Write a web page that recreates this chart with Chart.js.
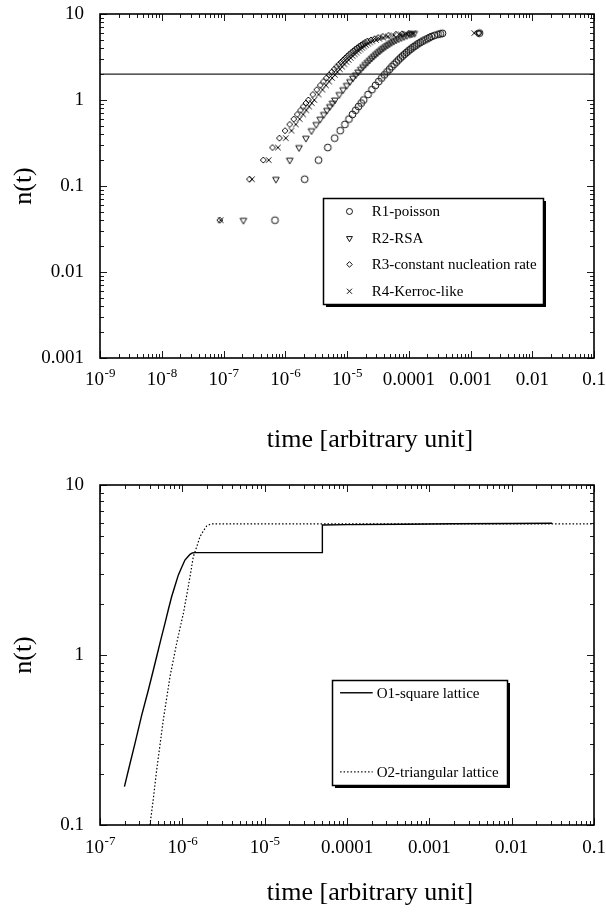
<!DOCTYPE html>
<html><head><meta charset="utf-8">
<script src="https://cdn.jsdelivr.net/npm/chart.js@4.4.1/dist/chart.umd.min.js"></script>
<style>
html,body{margin:0;padding:0;background:#fff;}
#wrap{position:relative;width:606px;height:913px;overflow:hidden;background:#fff;}
canvas{position:absolute;left:0;}
</style></head><body>
<div id="wrap">
<canvas id="topChart" width="606" height="457" style="top:0;width:606px;height:457px"></canvas>
<canvas id="botChart" width="606" height="456" style="top:457px;width:606px;height:456px"></canvas>
</div>
<script>
// ---------- DATA: top panel (n(t) for the four R models) ----------
const nValues = [0.04,0.12,0.20,0.28,0.36,0.44,0.52,0.60,0.68,0.76,0.84,0.92,1.00,
  1.16,1.32,1.48,1.64,1.80,1.96,2.12,2.28,2.44,2.60,2.76,2.92,3.08,3.24,3.40,3.56,3.72,
  3.88,4.04,4.20,4.36,4.52,4.68,4.84,5.00,5.16,5.32,5.48,5.64,5.80,5.88,5.96,6.00];
const r1Time = [6.82e-7,2.06e-6,3.46e-6,4.88e-6,6.31e-6,7.77e-6,9.25e-6,1.075e-5,1.227e-5,1.382e-5,1.538e-5,1.698e-5,1.86e-5,
  2.19e-5,2.53e-5,2.89e-5,3.26e-5,3.64e-5,4.03e-5,4.45e-5,4.88e-5,5.32e-5,5.79e-5,6.29e-5,6.80e-5,7.35e-5,7.92e-5,8.53e-5,9.18e-5,9.87e-5,
  1.061e-4,1.141e-4,1.228e-4,1.323e-4,1.428e-4,1.544e-4,1.676e-4,1.828e-4,2.0e-4,2.17e-4,2.35e-4,2.62e-4,2.98e-4,3.25e-4,3.52e-4,1.40e-3];
const r2Time = [2.1e-7,7.05e-7,1.18e-6,1.67e-6,2.16e-6,2.66e-6,3.17e-6,3.68e-6,4.20e-6,4.73e-6,5.26e-6,5.81e-6,6.36e-6,
  7.50e-6,8.67e-6,9.88e-6,1.114e-5,1.245e-5,1.380e-5,1.521e-5,1.668e-5,1.822e-5,1.982e-5,2.151e-5,2.328e-5,2.513e-5,2.71e-5,2.92e-5,3.14e-5,3.38e-5,
  3.63e-5,3.90e-5,4.20e-5,4.53e-5,4.88e-5,5.28e-5,5.74e-5,6.25e-5,6.86e-5,7.6e-5,8.4e-5,9.3e-5,1.04e-4,1.12e-4,1.23e-4,1.35e-3];
const r3Time = [8.7e-8,2.63e-7,4.41e-7,6.21e-7,8.05e-7,9.91e-7,1.179e-6,1.370e-6,1.564e-6,1.762e-6,1.960e-6,2.165e-6,2.37e-6,
  2.79e-6,3.23e-6,3.68e-6,4.15e-6,4.64e-6,5.14e-6,5.67e-6,6.21e-6,6.79e-6,7.38e-6,8.01e-6,8.67e-6,9.36e-6,1.009e-5,1.087e-5,1.170e-5,1.258e-5,
  1.352e-5,1.455e-5,1.565e-5,1.686e-5,1.82e-5,1.97e-5,2.14e-5,2.45e-5,2.8e-5,3.2e-5,3.8e-5,4.7e-5,6.2e-5,7.8e-5,1.0e-4,1.38e-3];
const r4Time = [9.0e-8,2.9e-7,5.4e-7,7.6e-7,1.02e-6,1.26e-6,1.48e-6,1.71e-6,1.95e-6,2.19e-6,2.44e-6,2.69e-6,2.95e-6,
  3.47e-6,4.01e-6,4.57e-6,5.14e-6,5.74e-6,6.35e-6,6.99e-6,7.65e-6,8.35e-6,9.07e-6,9.83e-6,1.063e-5,1.147e-5,1.235e-5,1.329e-5,1.428e-5,1.534e-5,
  1.647e-5,1.77e-5,1.90e-5,2.04e-5,2.20e-5,2.38e-5,2.58e-5,2.95e-5,3.35e-5,3.85e-5,4.6e-5,5.7e-5,7.4e-5,9.2e-5,1.18e-4,1.15e-3];
const thresholdLevel = 2;
const topSeriesNames = ['R1-poisson','R2-RSA','R3-constant nucleation rate','R4-Kerroc-like'];

// ---------- DATA: bottom panel (O1 / O2 lattices) ----------
const o1Time = [1.98e-7,2.3e-7,2.66e-7,3.2e-7,3.86e-7,4.4e-7,4.88e-7,5.5e-7,6.15e-7,6.8e-7,7.41e-7,8.2e-7,8.93e-7,9.8e-7,
  1.076e-6,1.16e-6,1.24e-6,1.32e-6,1.4e-6,5.0e-5,5.02e-5,1e-4,5e-4,2e-3,1e-2,3.1e-2];
const o1N = [0.168,0.227,0.302,0.44,0.62,0.80,0.98,1.24,1.536,1.87,2.2,2.58,2.95,3.27,
  3.62,3.77,3.91,3.98,4.0,4.0,5.82,5.85,5.88,5.92,5.94,5.96];
const o2Time = [4.04e-7,4.4e-7,4.88e-7,5.4e-7,5.87e-7,6.5e-7,7.08e-7,7.8e-7,8.53e-7,9.4e-7,1.03e-6,1.1e-6,1.18e-6,1.27e-6,
  1.36e-6,1.5e-6,1.64e-6,1.8e-6,1.98e-6,2.15e-6,2.3e-6,1e-5,1e-4,1e-3,1e-2,0.1];
const o2N = [0.1,0.137,0.211,0.305,0.415,0.57,0.746,0.944,1.17,1.45,1.76,2.09,2.52,3.1,
  3.79,4.35,4.97,5.37,5.75,5.86,5.9,5.9,5.9,5.9,5.9,5.9];
const bottomSeriesNames = ['O1-square lattice','O2-triangular lattice'];

// ---------- TICKS ----------
const xTickValuesTop = [1e-9,1e-8,1e-7,1e-6,1e-5,1e-4,1e-3,1e-2,1e-1];
const xTickLabelsTop = ['10^-9','10^-8','10^-7','10^-6','10^-5','0.0001','0.001','0.01','0.1'];
const yTickValuesTop = [0.001,0.01,0.1,1,10];
const yTickLabelsTop = ['0.001','0.01','0.1','1','10'];
const xTickValuesBot = [1e-7,1e-6,1e-5,1e-4,1e-3,1e-2,1e-1];
const xTickLabelsBot = ['10^-7','10^-6','10^-5','0.0001','0.001','0.01','0.1'];
const yTickValuesBot = [0.1,1,10];
const yTickLabelsBot = ['0.1','1','10'];
const xAxisTitle = 'time [arbitrary unit]';
const yAxisTitle = 'n(t)';

// ---------- STYLE / HELPERS ----------
const SERIF = "'Liberation Serif','Times New Roman',serif";
Chart.defaults.font.family = SERIF;
Chart.defaults.color = '#000';

function pts(xs, ys) { return xs.map((x, i) => ({x: x, y: Array.isArray(ys) ? ys[i] : ys})); }

function drawMarker(ctx, style, x, y, r) {
  ctx.beginPath();
  if (style === 'circle') { ctx.arc(x, y, r, 0, Math.PI * 2); }
  else if (style === 'triangleDown') {
    ctx.moveTo(x - r * 0.866, y - r * 0.5); ctx.lineTo(x + r * 0.866, y - r * 0.5); ctx.lineTo(x, y + r); ctx.closePath();
  } else if (style === 'diamond') {
    ctx.moveTo(x, y - r); ctx.lineTo(x + r, y); ctx.lineTo(x, y + r); ctx.lineTo(x - r, y); ctx.closePath();
  } else if (style === 'x') {
    const d = r * 0.75;
    ctx.moveTo(x - d, y - d); ctx.lineTo(x + d, y + d); ctx.moveTo(x + d, y - d); ctx.lineTo(x - d, y + d);
  }
  ctx.stroke();
}

function frameTicksPlugin(xVals, xLabels, labelDrop, titleX, titleY) {
  return {
    id: 'frameTicks',
    afterDraw(chart) {
      const {ctx, chartArea: a, scales: {x, y}} = chart;
      ctx.save();
      ctx.strokeStyle = '#1a1a1a';
      ctx.lineWidth = 1;
      const tickSet = (scale, cb) => {
        const lo = Math.floor(Math.log10(scale.min) + 1e-9), hi = Math.ceil(Math.log10(scale.max) - 1e-9);
        for (let e = lo; e <= hi; e++) for (let m = 1; m <= 9; m++) {
          const v = m * Math.pow(10, e);
          if (v < scale.min * 0.999 || v > scale.max * 1.001) continue;
          cb(Math.round(scale.getPixelForValue(v)) + 0.5, m === 1 ? 7 : 4);
        }
      };
      ctx.beginPath();
      tickSet(x, (p, L) => { ctx.moveTo(p, a.bottom); ctx.lineTo(p, a.bottom - L); ctx.moveTo(p, a.top); ctx.lineTo(p, a.top + L); });
      tickSet(y, (p, L) => { ctx.moveTo(a.left, p); ctx.lineTo(a.left + L, p); ctx.moveTo(a.right, p); ctx.lineTo(a.right - L, p); });
      ctx.stroke();
      ctx.lineWidth = 1.6;
      ctx.strokeStyle = '#000';
      ctx.strokeRect(Math.round(a.left), Math.round(a.top), Math.round(a.right - a.left), Math.round(a.bottom - a.top));
      // x tick labels (with superscript exponents)
      ctx.fillStyle = '#000';
      ctx.textBaseline = 'alphabetic';
      const base = a.bottom + labelDrop;
      xVals.forEach((v, i) => {
        const p = x.getPixelForValue(v);
        const lab = xLabels[i];
        if (lab.indexOf('^') >= 0) {
          const [b, ex] = lab.split('^');
          ctx.font = '19px ' + SERIF; const wb = ctx.measureText(b).width;
          ctx.font = '13px ' + SERIF; const we = ctx.measureText(ex).width;
          const x0 = p - (wb + we) / 2;
          ctx.textAlign = 'left';
          ctx.font = '19px ' + SERIF; ctx.fillText(b, x0, base);
          ctx.font = '13px ' + SERIF; ctx.fillText(ex, x0 + wb + 0.5, base - 8);
        } else {
          ctx.textAlign = 'center';
          ctx.font = '19px ' + SERIF; ctx.fillText(lab, p, base);
        }
      });
      // x axis title
      ctx.font = '26px ' + SERIF;
      ctx.textAlign = 'center';
      ctx.textBaseline = 'middle';
      ctx.fillText(xAxisTitle, titleX, titleY);
      ctx.restore();
    }
  };
}

function legendPlugin(box) {
  return {
    id: 'boxLegend',
    afterDraw(chart) {
      const {ctx, chartArea: a} = chart;
      const W = a.right - a.left, H = a.bottom - a.top;
      const x0 = Math.round(a.left + box.x0 * W), x1 = Math.round(a.left + box.x1 * W);
      const y0 = Math.round(a.top + box.y0 * H), y1 = Math.round(a.top + box.y1 * H);
      ctx.save();
      ctx.fillStyle = '#000';
      ctx.fillRect(x0 + 3, y0 + 3, x1 - x0, y1 - y0);
      ctx.fillStyle = '#fff';
      ctx.fillRect(x0, y0, x1 - x0, y1 - y0);
      ctx.strokeStyle = '#000'; ctx.lineWidth = 1.5;
      ctx.strokeRect(x0 + 0.5, y0 + 0.5, x1 - x0, y1 - y0);
      const items = chart.data.datasets.filter(d => d.inLegend);
      items.forEach((d, i) => {
        const yy = a.top + box.rows[i] * H;
        ctx.strokeStyle = '#111'; ctx.lineWidth = 1;
        if (d.markerStyle) {
          drawMarker(ctx, d.markerStyle, a.left + box.mx * W, yy, d.legendR);
        } else {
          ctx.setLineDash(d.borderDash || []);
          ctx.lineWidth = d.borderWidth;
          ctx.beginPath(); ctx.moveTo(a.left + box.l0 * W, yy); ctx.lineTo(a.left + box.l1 * W, yy); ctx.stroke();
          ctx.setLineDash([]);
        }
        ctx.fillStyle = '#000';
        ctx.font = '15px ' + SERIF;
        ctx.textAlign = 'left'; ctx.textBaseline = 'middle';
        ctx.fillText(d.label, a.left + box.tx * W, yy + 1);
      });
      ctx.restore();
    }
  };
}

function markerCanvas(style, r) {
  const c = document.createElement('canvas');
  const s = Math.ceil(r * 2 + 4);
  c.width = s; c.height = s;
  const g = c.getContext('2d');
  g.strokeStyle = '#111'; g.lineWidth = 1;
  drawMarker(g, style, s / 2, s / 2, r);
  return c;
}

function yScale(vals, labels, min, max) {
  return {
    type: 'logarithmic', min: min, max: max,
    afterBuildTicks: s => { s.ticks = vals.map(v => ({value: v})); },
    afterFit: s => { s.width = 100; s.paddingTop = 0; s.paddingBottom = 0; },
    grid: {display: false, drawTicks: false}, border: {display: false},
    ticks: {font: {size: 19, family: SERIF}, color: '#000', padding: 16, autoSkip: false,
      callback: (v, i) => labels[i]},
    title: {display: true, text: yAxisTitle, font: {size: 26, family: SERIF}, color: '#000', padding: {top: 9}}
  };
}
function xScale(min, max, h) {
  return {
    type: 'logarithmic', min: min, max: max,
    afterFit: s => { s.height = h; s.paddingLeft = 0; s.paddingRight = 0; },
    grid: {display: false, drawTicks: false}, border: {display: false},
    ticks: {display: false}
  };
}

// ---------- TOP CHART ----------
const topStyles = [
  {m: 'circle', r: 3.4, lr: 3},
  {m: 'triangleDown', r: 3.8, lr: 3.4},
  {m: 'diamond', r: 3.0, lr: 2.8},
  {m: 'x', r: 3.6, lr: 3.4}
];
const topTimes = [r1Time, r2Time, r3Time, r4Time];
const topDatasets = topTimes.map((t, i) => ({
  type: 'scatter', label: topSeriesNames[i], data: pts(t, nValues),
  pointStyle: markerCanvas(topStyles[i].m, topStyles[i].r),
  pointRadius: topStyles[i].r, inLegend: true, markerStyle: topStyles[i].m, legendR: topStyles[i].lr
}));
topDatasets.push({
  type: 'line', label: 'threshold', data: pts([1e-9, 1e-1], thresholdLevel),
  borderColor: '#222', borderWidth: 1.3, pointRadius: 0, inLegend: false
});

new Chart(document.getElementById('topChart'), {
  type: 'scatter',
  data: {datasets: topDatasets},
  options: {
    responsive: false, animation: false, devicePixelRatio: 1,
    layout: {padding: {top: 14, right: 12, left: 0, bottom: 0}},
    plugins: {legend: {display: false}, tooltip: {enabled: false}},
    scales: {x: xScale(1e-9, 1e-1, 99), y: yScale(yTickValuesTop, yTickLabelsTop, 0.001, 10)}
  },
  plugins: [frameTicksPlugin(xTickValuesTop, xTickLabelsTop, 27, 370, 440),
    legendPlugin({x0: 0.451, x1: 0.896, y0: 0.536, y1: 0.842, rows: [0.574, 0.652, 0.728, 0.806], mx: 0.505, tx: 0.55})]
});

// ---------- BOTTOM CHART ----------
new Chart(document.getElementById('botChart'), {
  type: 'scatter',
  data: {datasets: [
    {type: 'line', label: bottomSeriesNames[0], data: pts(o1Time, o1N), borderColor: '#000', borderWidth: 1.4,
      pointRadius: 0, tension: 0, inLegend: true},
    {type: 'line', label: bottomSeriesNames[1], data: pts(o2Time, o2N), borderColor: '#000', borderWidth: 1.2,
      borderDash: [1.5, 2], pointRadius: 0, tension: 0, inLegend: true}
  ]},
  options: {
    responsive: false, animation: false, devicePixelRatio: 1,
    layout: {padding: {top: 28, right: 12, left: 0, bottom: 0}},
    plugins: {legend: {display: false}, tooltip: {enabled: false}},
    scales: {x: xScale(1e-7, 1e-1, 88), y: yScale(yTickValuesBot, yTickLabelsBot, 0.1, 10)}
  },
  plugins: [frameTicksPlugin(xTickValuesBot, xTickLabelsBot, 28, 370, 436),
    legendPlugin({x0: 0.470, x1: 0.823, y0: 0.575, y1: 0.881, rows: [0.611, 0.844], l0: 0.486, l1: 0.552, tx: 0.56})]
});
</script>
</body></html>
